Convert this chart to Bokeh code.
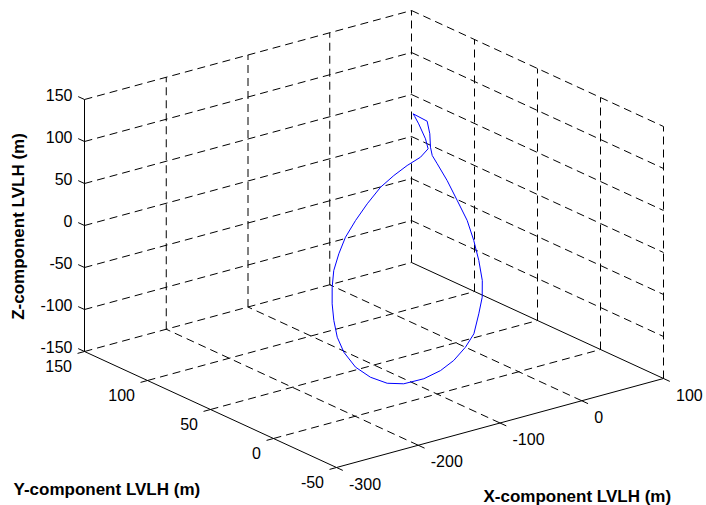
import numpy as np
from bokeh.plotting import figure
from bokeh.models import Range1d
from bokeh.core.properties import value
from bokeh.embed import file_html
from bokeh.resources import INLINE

# ---------------- data ----------------
x_ticks = [-300, -200, -100, 0, 100]
y_ticks = [-50, 0, 50, 100, 150]
z_ticks = [-150, -100, -50, 0, 50, 100, 150]
x_tick_labels = ["-300", "-200", "-100", "0", "100"]
y_tick_labels = ["-50", "0", "50", "100", "150"]
z_tick_labels = ["-150", "-100", "-50", "0", "50", "100", "150"]

x_title = "X-component LVLH (m)"
y_title = "Y-component LVLH (m)"
z_title = "Z-component LVLH (m)"

# trajectory (LVLH, metres)
traj_x = [15.7, 26.2, 21.6, 14.4, 11.3, 11.7, 12.3, 11.2, 10.0, 5.1, -1.4, -9.6, -19.6,
          -33.0, -50.1, -66.9, -87.2, -107.2, -129.8, -154.1, -171.4, -185.6, -195.5,
          -199.1, -197.2, -190.9, -182.8, -172.9, -161.4, -146.1, -129.2, -108.7, -86.4,
          -62.4, -41.4, -21.2, -2.1, 10.9, 14.0, 15.7, 15.8, 15.7]
traj_y = [94.0, 89.7, 84.6, 79.4, 76.0, 72.3, 64.8, 56.1, 47.4, 39.0, 30.8, 22.7, 16.3,
          10.3, 3.1, -1.1, -5.0, -7.5, -8.9, -8.7, -6.8, -2.7, 2.7, 9.6, 16.1, 22.9, 29.5,
          35.9, 42.1, 48.0, 53.7, 59.0, 64.2, 69.2, 72.3, 74.8, 76.6, 79.0, 83.1, 89.6,
          92.8, 94.0]
traj_z = [88.0, 79.4, 69.2, 58.7, 52.0, 44.6, 29.6, 12.2, -5.3, -22.0, -38.4, -54.5,
          -67.4, -79.4, -93.7, -102.3, -110.0, -115.0, -117.8, -117.5, -113.6, -105.5,
          -94.6, -80.7, -67.8, -54.2, -41.1, -28.3, -15.8, -4.0, 7.3, 18.1, 28.5, 38.4,
          44.6, 49.5, 53.1, 58.0, 66.2, 79.1, 85.6, 88.0]

# ---------------- 3-D view (projection) ----------------
XMIN, XMAX = x_ticks[0], x_ticks[-1]
YMIN, YMAX = y_ticks[0], y_ticks[-1]
ZMIN, ZMAX = z_ticks[0], z_ticks[-1]
ORIGIN = (336.0, 467.0)     # screen position of (XMIN, YMIN, ZMIN)
EX = (0.8175, -0.2225)      # screen step per unit x
EY = (-1.26, -0.58)         # screen step per unit y
EZ = (0.0, -0.84)           # screen step per unit z


def proj(x, y, z):
    x = np.asarray(x, dtype=float) - XMIN
    y = np.asarray(y, dtype=float) - YMIN
    z = np.asarray(z, dtype=float) - ZMIN
    sx = ORIGIN[0] + x * EX[0] + y * EY[0] + z * EZ[0]
    sy = ORIGIN[1] + x * EX[1] + y * EY[1] + z * EZ[1]
    return sx, sy


def seg(p0, p1):
    a = proj(*p0)
    b = proj(*p1)
    return [float(a[0]), float(b[0])], [float(a[1]), float(b[1])]


p = figure(width=706, height=505, x_range=Range1d(0, 706), y_range=Range1d(505, 0),
           output_backend="svg", toolbar_location=None, min_border=0,
           x_axis_type=None, y_axis_type=None)
p.outline_line_color = None
p.background_fill_color = "white"
p.border_fill_color = "white"

# ---------------- dashed grid ----------------
dxs, dys = [], []
# back wall (y = YMAX)
for zt in z_ticks:
    a, b = seg((XMIN, YMAX, zt), (XMAX, YMAX, zt))
    dxs.append(a); dys.append(b)
for xt in x_ticks[1:]:
    a, b = seg((xt, YMAX, ZMIN), (xt, YMAX, ZMAX))
    dxs.append(a); dys.append(b)
# side wall (x = XMAX)
for zt in z_ticks[1:]:
    a, b = seg((XMAX, YMAX, zt), (XMAX, YMIN, zt))
    dxs.append(a); dys.append(b)
for yt in y_ticks[:-1]:
    a, b = seg((XMAX, yt, ZMIN), (XMAX, yt, ZMAX))
    dxs.append(a); dys.append(b)
# floor (z = ZMIN)
for xt in x_ticks[1:-1]:
    a, b = seg((xt, YMIN, ZMIN), (xt, YMAX, ZMIN))
    dxs.append(a); dys.append(b)
for yt in y_ticks[1:-1]:
    a, b = seg((XMIN, yt, ZMIN), (XMAX, yt, ZMIN))
    dxs.append(a); dys.append(b)
p.multi_line(dxs, dys, line_color="black", line_width=1, line_dash="8 5")

# ---------------- solid axes and ticks ----------------
sxs, sys_ = [], []
for p0, p1 in [((XMIN, YMAX, ZMIN), (XMIN, YMAX, ZMAX)),
               ((XMIN, YMIN, ZMIN), (XMIN, YMAX, ZMIN)),
               ((XMIN, YMIN, ZMIN), (XMAX, YMIN, ZMIN)),
               ((XMAX, YMIN, ZMIN), (XMAX, YMAX, ZMIN))]:
    a, b = seg(p0, p1)
    sxs.append(a); sys_.append(b)
for zt in z_ticks:
    a, b = seg((XMIN, YMAX, zt), (XMIN, YMAX + 5, zt))
    sxs.append(a); sys_.append(b)
for yt in y_ticks:
    a, b = seg((XMIN, yt, ZMIN), (XMIN - 8.5, yt, ZMIN))
    sxs.append(a); sys_.append(b)
for xt in x_ticks:
    a, b = seg((xt, YMIN, ZMIN), (xt, YMIN - 5, ZMIN))
    sxs.append(a); sys_.append(b)
p.multi_line(sxs, sys_, line_color="black", line_width=1)

# ---------------- trajectory ----------------
tx, ty = proj(traj_x, traj_y, traj_z)
p.line(tx, ty, line_color="#0000ff", line_width=1)

# ---------------- tick labels ----------------
FONT = value("Liberation Sans")
zx, zy = proj([XMIN] * len(z_ticks), [YMAX] * len(z_ticks), z_ticks)
p.text(x=zx - 12, y=zy - 4.5, text=z_tick_labels, text_font=FONT, text_font_size="16px",
       text_align="right", text_baseline="middle", text_color="black")
yx, yy = proj([XMIN] * len(y_ticks), y_ticks, [ZMIN] * len(y_ticks))
p.text(x=yx - 12.5, y=yy + 14.5, text=y_tick_labels, text_font=FONT, text_font_size="16px",
       text_align="right", text_baseline="middle", text_color="black")
xx, xy = proj(x_ticks, [YMIN] * len(x_ticks), [ZMIN] * len(x_ticks))
p.text(x=xx + 12.5, y=xy + 16, text=x_tick_labels, text_font=FONT,
       text_font_size="16px", text_align="left", text_baseline="middle", text_color="black")

# ---------------- axis titles ----------------
p.text(x=[483], y=[495.5], text=[x_title], text_font=FONT, text_font_size="17px",
       text_font_style="bold", text_align="left", text_baseline="middle", text_color="black")
p.text(x=[13], y=[488.5], text=[y_title], text_font=FONT, text_font_size="17px",
       text_font_style="bold", text_align="left", text_baseline="middle", text_color="black")
p.text(x=[18], y=[226], text=[z_title], text_font=FONT, text_font_size="17px",
       text_font_style="bold", text_align="center", text_baseline="middle",
       text_color="black", angle=np.pi / 2)

open("out.html", "w").write(file_html(p, INLINE))
